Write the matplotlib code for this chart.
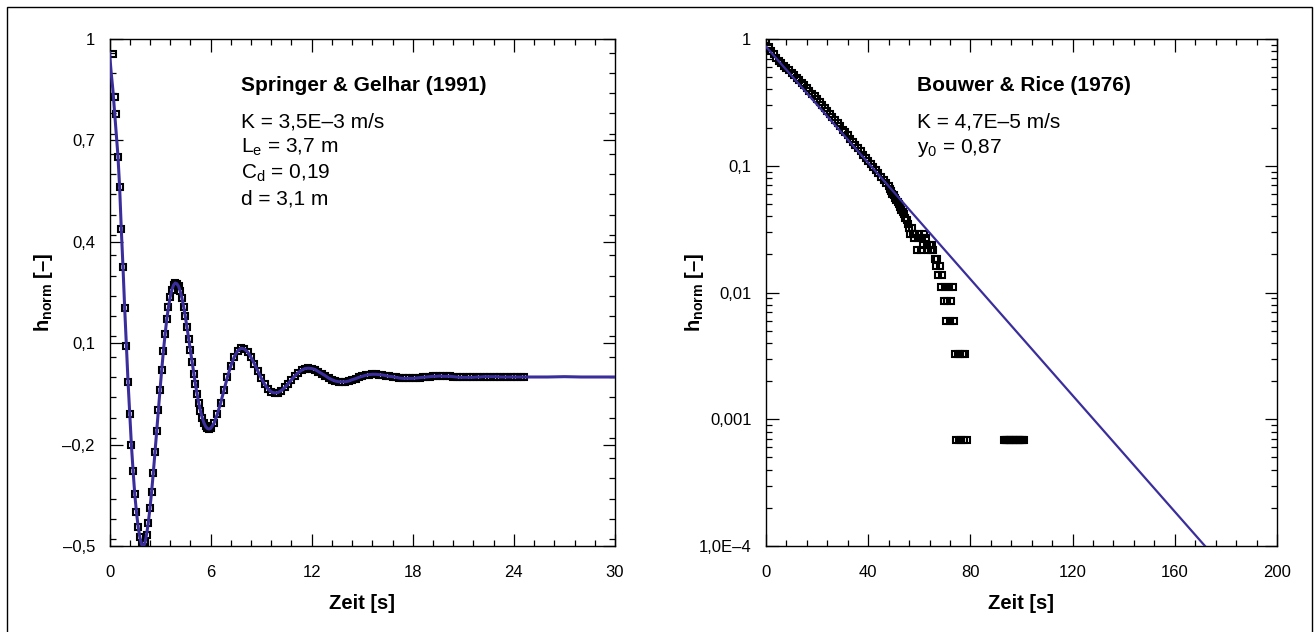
import numpy as np
import matplotlib
matplotlib.use("Agg")
import matplotlib.pyplot as plt
from matplotlib.ticker import MultipleLocator, NullFormatter, LogLocator
from matplotlib.patches import Rectangle

plt.rcParams['font.family'] = ['Liberation Sans', 'DejaVu Sans']
plt.rcParams['mathtext.fontset'] = 'custom'
plt.rcParams['mathtext.rm'] = 'Liberation Sans'
plt.rcParams['mathtext.it'] = 'Liberation Sans:italic'
plt.rcParams['mathtext.bf'] = 'Liberation Sans:bold'

# --- Springer & Gelhar (links) ---
zeit_mess = np.round(np.concatenate([np.arange(0.2, 6.05, 0.1),
                                     np.arange(6.2, 24.65, 0.2)]), 1)
h_mess = [
    0.955, 0.829, 0.777, 0.652, 0.563, 0.437, 0.326, 0.205, 0.093,
    -0.014, -0.110, -0.201, -0.278, -0.347, -0.400, -0.443, -0.474, -0.495, -0.503,
    -0.492, -0.466, -0.432, -0.389, -0.339, -0.283, -0.223, -0.161, -0.098, -0.037,
    0.022, 0.077, 0.127, 0.171, 0.207, 0.236, 0.258, 0.272, 0.278, 0.276,
    0.268, 0.253, 0.233, 0.208, 0.179, 0.147, 0.113, 0.079, 0.044, 0.010,
    -0.022, -0.051, -0.078, -0.101, -0.120, -0.135, -0.146, -0.152, -0.154, -0.152,
    # ab 6,2 s alle 0,2 s
    -0.137, -0.110, -0.076, -0.038, 0.000, 0.033, 0.059, 0.077, 0.085, 0.083,
    0.074, 0.058, 0.039, 0.018, -0.003, -0.021, -0.035, -0.044, -0.047, -0.046,
    -0.040, -0.031, -0.020, -0.008, 0.003, 0.013, 0.020, 0.025, 0.026, 0.025,
    0.022, 0.016, 0.010, 0.004, -0.003, -0.008, -0.012, -0.014, -0.014, -0.014,
    -0.012, -0.008, -0.005, -0.001, 0.002, 0.005, 0.007, 0.008, 0.008, 0.007,
    0.006, 0.004, 0.002, 0.001, -0.001, -0.003, -0.004, -0.004, -0.004, -0.004,
    -0.003, -0.002, -0.001, 0.000, 0.001, 0.002, 0.002, 0.003, 0.002, 0.002,
    0.002, 0.001, 0.000, -0.001, -0.001, -0.001, -0.001, -0.001, 0.000, 0.000,
    0.001, 0.001, 0.001, 0.001, 0.001, 0.000, 0.000, 0.000, 0.000, 0.000,
    0.000, 0.000, 0.000,
]
fit_zeit_anfang = [0.0, 0.1, 0.2, 0.3, 0.4, 0.5]
fit_h_anfang = [0.96, 0.90, 0.85, 0.785, 0.72, 0.655]
fit_zeit_ende = [25, 26, 27, 28, 29, 30]
fit_h_ende = [0.0, 0.0, 0.001, 0.0, 0.0, 0.0]

sg_xticks = [0, 6, 12, 18, 24, 30]
sg_yticks = [-0.5, -0.2, 0.1, 0.4, 0.7, 1.0]
sg_yticklabels = ['\u20130,5', '\u20130,2', '0,1', '0,4', '0,7', '1']

# --- Bouwer & Rice (rechts) ---
br_zeit = list(range(0, 49))
br_h = [0.98, 0.864, 0.801, 0.760, 0.704, 0.668, 0.648, 0.615, 0.590, 0.566,
        0.543, 0.521, 0.495, 0.475, 0.450, 0.432, 0.410, 0.389, 0.369, 0.354,
        0.336, 0.318, 0.302, 0.287, 0.272, 0.258, 0.242, 0.229, 0.218, 0.206,
        0.193, 0.184, 0.174, 0.163, 0.155, 0.147, 0.138, 0.131, 0.122, 0.116,
        0.110, 0.103, 0.098, 0.092, 0.0872, 0.0818, 0.0776, 0.0727, 0.0690]
br_zeit_streu = np.arange(48.5, 78.75, 0.5)
br_h_streu = [0.0650, 0.0630, 0.0600, 0.0585, 0.0560, 0.0540, 0.0520, 0.0500, 0.0470, 0.0450,
              0.0430, 0.0420, 0.0390, 0.0370, 0.0350, 0.0325, 0.0292, 0.0325, 0.0292, 0.0267,
              0.0292, 0.0216, 0.0267, 0.0292, 0.0216, 0.0267, 0.0239, 0.0292, 0.0267, 0.0239,
              0.0216, 0.0239, 0.0216, 0.0239, 0.0216, 0.0185, 0.0162, 0.0185, 0.0137, 0.0162,
              0.0110, 0.0137, 0.0085, 0.0110, 0.0060, 0.0085, 0.0110, 0.0060, 0.0085, 0.0110,
              0.0060, 0.0033, 0.00068, 0.0033, 0.00068, 0.0033, 0.00068, 0.0033, 0.00068, 0.0033,
              0.00068]
br_zeit_rest = np.arange(93.0, 101.25, 0.5)
br_h_rest = [0.00068] * len(br_zeit_rest)
br_fit_zeit = [0, 40, 80, 120, 160, 180]
br_fit_h = [0.87, 0.1053, 0.01274, 0.001541, 1.865e-4, 6.49e-5]

br_xticks = [0, 40, 80, 120, 160, 200]
br_yticks = [1e-4, 1e-3, 1e-2, 1e-1, 1]
br_yticklabels = ['1,0E\u20134', '0,001', '0,01', '0,1', '1']

blau = '#3a2e9c'
W, H = 1315, 632
mk = dict(ls='none', marker='s', ms=4.4, mfc='none', mec='black', mew=1.5, zorder=2)

fig = plt.figure(figsize=(W / 100, H / 100), dpi=100)
fig.patches.append(Rectangle((7 / W, -0.02), (1311.5 - 7) / W, 1.02 - 7 / H,
                             transform=fig.transFigure, fill=False,
                             edgecolor='black', linewidth=1.0))

ax1 = fig.add_axes([109.5 / W, 1 - 546 / H, (615 - 109.5) / W, (546 - 39) / H])
ax2 = fig.add_axes([766 / W, 1 - 546 / H, (1277 - 766) / W, (546 - 39) / H])

# links
ax1.plot(zeit_mess, h_mess, **mk)
fit_t = list(fit_zeit_anfang) + list(zeit_mess[4:]) + fit_zeit_ende
fit_h = list(fit_h_anfang) + list(h_mess[4:]) + fit_h_ende
ax1.plot(fit_t, fit_h, '-', color=blau, lw=2.2, zorder=3)
ax1.set_xlim(0, 30)
ax1.set_ylim(-0.5, 1.0)
ax1.set_xticks(sg_xticks)
ax1.set_xticklabels([str(v) for v in sg_xticks])
ax1.set_yticks(sg_yticks)
ax1.set_yticklabels(sg_yticklabels)
ax1.xaxis.set_minor_locator(MultipleLocator(1.2))
ax1.yaxis.set_minor_locator(MultipleLocator(0.06))

# rechts
ax2.plot(br_zeit, br_h, **mk)
ax2.plot(br_zeit_streu, br_h_streu, **mk)
ax2.plot(br_zeit_rest, br_h_rest, **mk)
ax2.plot(br_fit_zeit, br_fit_h, '-', color=blau, lw=1.6, zorder=3)
ax2.set_yscale('log')
ax2.set_xlim(0, 200)
ax2.set_ylim(1e-4, 1)
ax2.set_xticks(br_xticks)
ax2.set_xticklabels([str(v) for v in br_xticks])
ax2.set_yticks(br_yticks)
ax2.set_yticklabels(br_yticklabels)
ax2.xaxis.set_minor_locator(MultipleLocator(8))
ax2.yaxis.set_minor_locator(LogLocator(base=10, subs=np.arange(2, 10)))
ax2.yaxis.set_minor_formatter(NullFormatter())

ylabel = r'h$_\mathbf{norm}$ [' + '\u2013' + ']'
for ax, lx in ((ax1, (55 - 109.5) / 505.5), (ax2, (706 - 766) / 511)):
    for s in ax.spines.values():
        s.set_linewidth(1.0)
    ax.tick_params(which='both', direction='in', top=True, right=True,
                   width=0.9, labelsize=12)
    ax.tick_params(which='major', length=9)
    ax.tick_params(which='minor', length=4.5)
    ax.tick_params(axis='x', pad=14)
    ax.tick_params(axis='y', pad=10.5)
    ax.set_xlabel('Zeit [s]', fontsize=14.5, fontweight='bold', labelpad=10)
    ax.set_ylabel(ylabel, fontsize=14.5, fontweight='bold')
    ax.yaxis.set_label_coords(lx, 0.5)

# Beschriftungen
def txt(x, y, s, **kw):
    fig.text(x / W, 1 - y / H, s, fontsize=15, va='baseline', ha='left', **kw)

txt(241, 91, 'Springer & Gelhar (1991)', fontweight='bold')
txt(241, 127, 'K = 3,5E\u20133 m/s')
txt(241, 153, r'L$_\mathrm{e}$ = 3,7 m')
txt(241, 179, r'C$_\mathrm{d}$ = 0,19')
txt(241, 205, 'd = 3,1 m')

txt(917, 91, 'Bouwer & Rice (1976)', fontweight='bold')
txt(917, 127, 'K = 4,7E\u20135 m/s')
txt(917, 153, r'y$_\mathrm{0}$ = 0,87')

fig.savefig('out.png', dpi=100)
